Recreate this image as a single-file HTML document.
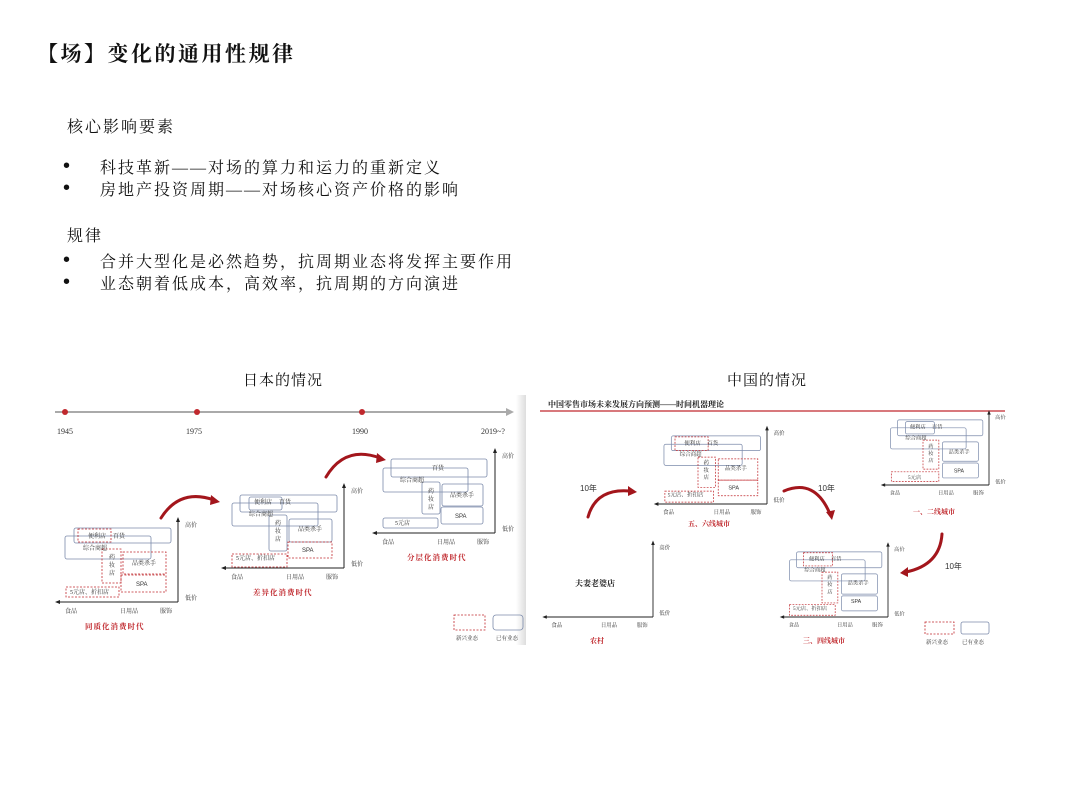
<!DOCTYPE html>
<html><head><meta charset="utf-8"><style>
html,body{margin:0;padding:0;background:#fff;}
body{width:1080px;height:809px;position:relative;overflow:hidden;font-family:"Liberation Serif","Noto Serif CJK SC",serif;color:#111;}
.t{position:absolute;white-space:nowrap;}
.b{position:absolute;font-size:20px;line-height:20px;font-family:"Liberation Sans",sans-serif;}
</style></head><body>
<div class="t" style="left:37px;top:38px;font-size:21px;font-weight:bold;letter-spacing:2.5px;font-family:'Liberation Serif','Noto Serif CJK SC',serif;color:#111;">【场】变化的通用性规律</div>
<div class="t" style="left:67px;top:114px;font-size:16px;letter-spacing:2px;">核心影响要素</div>
<div class="b" style="left:63px;top:156px;">•</div>
<div class="t" style="left:100px;top:155px;font-size:16px;letter-spacing:2px;">科技革新——对场的算力和运力的重新定义</div>
<div class="b" style="left:63px;top:178px;">•</div>
<div class="t" style="left:100px;top:177px;font-size:16px;letter-spacing:2px;">房地产投资周期——对场核心资产价格的影响</div>
<div class="t" style="left:67px;top:223px;font-size:16px;letter-spacing:2px;">规律</div>
<div class="b" style="left:63px;top:250px;">•</div>
<div class="t" style="left:100px;top:249px;font-size:16px;letter-spacing:2px;">合并大型化是必然趋势，抗周期业态将发挥主要作用</div>
<div class="b" style="left:63px;top:272px;">•</div>
<div class="t" style="left:100px;top:271px;font-size:16px;letter-spacing:2px;">业态朝着低成本，高效率，抗周期的方向演进</div>
<div class="t" style="left:243px;top:369px;font-size:15px;letter-spacing:1px;">日本的情况</div>
<div class="t" style="left:727px;top:369px;font-size:15px;letter-spacing:1px;">中国的情况</div>

<svg width="1080" height="809" style="position:absolute;left:0;top:0" xmlns="http://www.w3.org/2000/svg" font-family="Liberation Serif, Noto Serif CJK SC, serif">
<defs>
<linearGradient id="sh" x1="0" x2="1"><stop offset="0" stop-color="#fff"/><stop offset="1" stop-color="#ddd"/></linearGradient>
<g id="ax">
  <line x1="0" y1="0" x2="0" y2="-82" stroke="#222" stroke-width="1"/>
  <polygon points="-2,-80 2,-80 0,-85" fill="#222" stroke="none"/>
  <line x1="0" y1="0" x2="-120" y2="0" stroke="#222" stroke-width="1"/>
  <polygon points="-118,-2 -118,2 -123,0" fill="#222" stroke="none"/>
  <g fill="#333" stroke="none" font-size="6">
  <text x="7" y="-75">高价</text>
  <text x="7" y="-2">低价</text>
  <text x="-113" y="11">食品</text>
  <text x="-58" y="11">日用品</text>
  <text x="-18" y="11">服饰</text>
  </g>
</g>
<g id="lb" font-size="6" fill="#333" stroke="none">
  <text x="-90" y="-64">便利店</text><text x="-65" y="-64">百货</text>
  <text x="-95" y="-52">综合商超</text>
  <text x="-69" y="-43">药</text><text x="-69" y="-35">妆</text><text x="-69" y="-27">店</text>
  <text x="-46" y="-37">品类杀手</text>
  <text x="-42" y="-16" font-family="Liberation Sans">SPA</text>
  <text x="-108" y="-8">5元店、折扣店</text>
</g>
</defs>
<!-- timeline -->
<line x1="55" y1="412" x2="508" y2="412" stroke="#aaa" stroke-width="2"/>
<polygon points="506,408 514,412 506,416" fill="#aaa"/>
<circle cx="65" cy="412" r="3" fill="#c0282d"/><circle cx="197" cy="412" r="3" fill="#c0282d"/><circle cx="362" cy="412" r="3" fill="#c0282d"/>
<g font-size="8" fill="#333"><text x="57" y="434">1945</text><text x="186" y="434">1975</text><text x="352" y="434">1990</text><text x="481" y="434">2019~?</text></g>
<rect x="516" y="395" width="10" height="250" fill="url(#sh)"/>

<!-- chart 1 -->
<g transform="translate(178,602)" fill="none" stroke-width="0.8">
 <rect x="-104" y="-74" width="97" height="15" rx="2" stroke="#7c8bab"/>
 <rect x="-113" y="-66" width="86" height="23" rx="2" stroke="#7c8bab"/>
 <g stroke="#c0282d" stroke-dasharray="2,1.5">
 <rect x="-100" y="-73" width="33" height="13"/><rect x="-76" y="-53" width="19" height="34"/>
 <rect x="-55" y="-50" width="43" height="22"/><rect x="-57" y="-27" width="45" height="17"/>
 <rect x="-112" y="-15" width="53" height="10"/></g>
 <use href="#lb"/><use href="#ax"/>
</g>
<text x="85" y="629" font-size="7.5" fill="#c0282d" font-weight="bold" letter-spacing="1">同质化消费时代</text>
<!-- chart 2 -->
<g transform="translate(344,568)" fill="none" stroke-width="0.8">
 <g stroke="#7c8bab">
 <rect x="-104" y="-73" width="97" height="17" rx="2"/><rect x="-95" y="-71" width="33" height="13" rx="2"/>
 <rect x="-112" y="-65" width="86" height="23" rx="2"/><rect x="-75" y="-53" width="18" height="36" rx="2"/>
 <rect x="-55" y="-49" width="43" height="23" rx="2"/></g>
 <g stroke="#c0282d" stroke-dasharray="2,1.5"><rect x="-56" y="-26" width="44" height="16"/><rect x="-112" y="-14" width="55" height="13"/></g>
 <use href="#lb"/><use href="#ax"/>
</g>
<text x="253" y="595" font-size="7.5" fill="#c0282d" font-weight="bold" letter-spacing="1">差异化消费时代</text>
<!-- chart 3 -->
<g transform="translate(495,533)" fill="none" stroke-width="0.8">
 <g stroke="#7c8bab">
 <rect x="-104" y="-74" width="96" height="18" rx="2"/><rect x="-112" y="-65" width="85" height="24" rx="2"/>
 <rect x="-73" y="-51" width="18" height="32" rx="2"/><rect x="-53" y="-49" width="41" height="22" rx="2"/>
 <rect x="-54" y="-26" width="42" height="17" rx="2"/><rect x="-112" y="-15" width="55" height="10" rx="2"/></g>
 <g font-size="6" fill="#333" stroke="none">
 <text x="-63" y="-63">百货</text><text x="-95" y="-51">综合商超</text>
 <text x="-67" y="-40">药</text><text x="-67" y="-32">妆</text><text x="-67" y="-24">店</text>
 <text x="-45" y="-36">品类杀手</text><text x="-40" y="-15" font-family="Liberation Sans">SPA</text><text x="-100" y="-8">5元店</text></g>
 <use href="#ax"/>
</g>
<text x="407" y="560" font-size="7.5" fill="#c0282d" font-weight="bold" letter-spacing="1">分层化消费时代</text>
<!-- arrows left -->
<g fill="none" stroke="#a3161c" stroke-width="3" stroke-linecap="round">
<path d="M161,518 Q180,488 214,500"/><path d="M326,477 Q345,445 380,458"/>
</g>
<polygon points="211,495 220,502 210,505" fill="#a3161c"/><polygon points="377,453 386,460 376,463" fill="#a3161c"/>
<!-- legend left -->
<rect x="454" y="615" width="31" height="15" fill="none" stroke="#c0282d" stroke-dasharray="2,1.5" stroke-width="0.8"/>
<rect x="493" y="615" width="30" height="15" rx="3" fill="none" stroke="#7c8bab" stroke-width="0.8"/>
<text x="456" y="640" font-size="5.5" fill="#333">新兴业态</text><text x="496" y="640" font-size="5.5" fill="#333">已有业态</text>

<!-- China -->
<text x="548" y="407" font-size="8" font-weight="bold" fill="#222">中国零售市场未来发展方向预测——时间机器理论</text>
<line x1="540" y1="411" x2="1005" y2="411" stroke="#c0282d" stroke-width="1.2"/>
<!-- 五六线 -->
<g transform="translate(767,504) scale(0.92)" fill="none" stroke-width="0.8">
 <g stroke="#7c8bab"><rect x="-104" y="-74" width="97" height="16" rx="2"/><rect x="-112" y="-65" width="85" height="23" rx="2"/></g>
 <g stroke="#c0282d" stroke-dasharray="2,1.5"><rect x="-100" y="-73" width="36" height="15"/><rect x="-75" y="-51" width="19" height="33"/>
 <rect x="-53" y="-49" width="43" height="23"/><rect x="-53" y="-26" width="43" height="17"/><rect x="-111" y="-14" width="53" height="12"/></g>
 <use href="#lb"/><use href="#ax"/>
</g>
<text x="688" y="526" font-size="7" fill="#c0282d" font-weight="bold">五、六线城市</text>
<!-- 一二线 -->
<g transform="translate(989,485) scale(0.88)" fill="none" stroke-width="0.8">
 <g stroke="#7c8bab"><rect x="-104" y="-74" width="97" height="18" rx="2"/><rect x="-95" y="-72" width="33" height="14" rx="2"/>
 <rect x="-112" y="-65" width="86" height="24" rx="2"/><rect x="-53" y="-49" width="41" height="22" rx="2"/><rect x="-53" y="-25" width="41" height="17" rx="2"/></g>
 <g stroke="#c0282d" stroke-dasharray="2,1.5"><rect x="-75" y="-51" width="18" height="33"/><rect x="-111" y="-15" width="54" height="11"/></g>
 <g font-size="6" fill="#333" stroke="none">
 <text x="-90" y="-64">便利店</text><text x="-65" y="-64">百货</text><text x="-95" y="-52">综合商超</text>
 <text x="-69" y="-42">药</text><text x="-69" y="-34">妆</text><text x="-69" y="-26">店</text>
 <text x="-46" y="-36">品类杀手</text><text x="-40" y="-14" font-family="Liberation Sans">SPA</text><text x="-92" y="-7">5元店</text></g>
 <use href="#ax"/>
</g>
<text x="913" y="514" font-size="7" fill="#c0282d" font-weight="bold">一、二线城市</text>
<!-- 三四线 -->
<g transform="translate(888,617) scale(0.88)" fill="none" stroke-width="0.8">
 <g stroke="#7c8bab"><rect x="-104" y="-74" width="97" height="18" rx="2"/><rect x="-112" y="-65" width="86" height="24" rx="2"/>
 <rect x="-53" y="-49" width="41" height="23" rx="2"/><rect x="-53" y="-24" width="41" height="17" rx="2"/></g>
 <g stroke="#c0282d" stroke-dasharray="2,1.5"><rect x="-96" y="-73" width="33" height="15"/><rect x="-75" y="-51" width="18" height="35"/><rect x="-112" y="-14" width="52" height="12"/></g>
 <use href="#lb"/><use href="#ax"/>
</g>
<text x="803" y="643" font-size="7" fill="#c0282d" font-weight="bold">三、四线城市</text>
<!-- 农村 -->
<g transform="translate(653,617) scale(0.9)"><use href="#ax"/></g>
<text x="575" y="586" font-size="8" font-weight="bold" fill="#222">夫妻老婆店</text>
<text x="590" y="643" font-size="7" fill="#c0282d" font-weight="bold">农村</text>
<!-- arrows right -->
<g fill="none" stroke="#a3161c" stroke-width="3" stroke-linecap="round">
<path d="M588,517 Q596,488 630,491"/><path d="M784,491 Q815,478 830,514"/><path d="M942,534 Q940,565 906,572"/>
</g>
<polygon points="628,486 637,492 628,496" fill="#a3161c"/><polygon points="826,512 832,520 835,510" fill="#a3161c"/><polygon points="908,567 900,573 908,577" fill="#a3161c"/>
<g font-size="8" fill="#333" font-family="Liberation Sans, Noto Sans CJK SC, sans-serif"><text x="580" y="491">10年</text><text x="818" y="491">10年</text><text x="945" y="569">10年</text></g>
<rect x="925" y="622" width="29" height="12" fill="none" stroke="#c0282d" stroke-dasharray="2,1.5" stroke-width="0.8"/>
<rect x="961" y="622" width="28" height="12" rx="2" fill="none" stroke="#7c8bab" stroke-width="0.8"/>
<text x="926" y="644" font-size="5.5" fill="#333">新兴业态</text><text x="962" y="644" font-size="5.5" fill="#333">已有业态</text>
</svg>
</body></html>
